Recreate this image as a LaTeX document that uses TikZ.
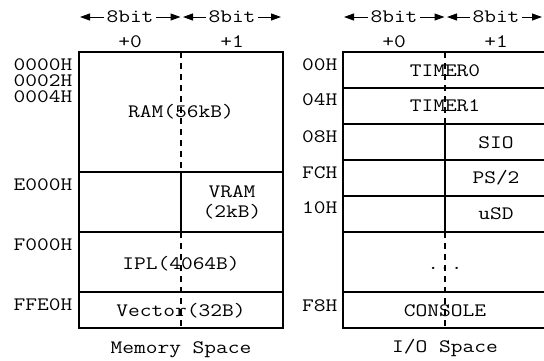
\documentclass[tikz,border=0pt]{standalone}
\usepackage{fontspec}
\setmonofont{Latin Modern Mono}[FakeStretch=1.2]
\usetikzlibrary{arrows.meta}
\begin{document}
\begin{tikzpicture}[x=1pt,y=-1pt,
 lbl/.style={font=\ttfamily\fontsize{19}{23}\selectfont, inner sep=0pt, text height=11.6pt, text depth=0pt},
 bitlbl/.style={lbl, inner xsep=2pt},
 box/.style={line width=1.2pt},
 mid/.style={line width=1.1pt, dash pattern=on 6pt off 5pt},
 solidmid/.style={line width=1.1pt},
 bitarrow/.style={line width=1pt, -{Triangle[length=10pt,width=7pt]}},
 ]
\useasboundingbox (0,0) rectangle (544,360);

% ---------- Memory space ----------
\coordinate (mTL) at (79,52); \coordinate (mBR) at (283,328);
\draw[box] (mTL) rectangle (mBR);
\coordinate (mE0a) at (79,172); \coordinate (mE0b) at (283,172);
\coordinate (mF0a) at (79,232); \coordinate (mF0b) at (283,232);
\coordinate (mFEa) at (79,292); \coordinate (mFEb) at (283,292);
\draw[box] (mE0a) -- (mE0b);
\draw[box] (mF0a) -- (mF0b);
\draw[box] (mFEa) -- (mFEb);
\coordinate (mm0) at (181,52); \coordinate (mm1) at (181,172);
\coordinate (mm2) at (181,232); \coordinate (mm3) at (181,328);
\draw[mid] (mm0) -- (mm1);
\draw[solidmid] (mm1) -- (mm2);
\draw[mid] (mm2) -- (mm3);

% header arrows (memory)
\node[bitlbl] (mb0) at (130,17) {8bit};
\node[bitlbl] (mb1) at (232,17) {8bit};
\coordinate (maL) at (80,17); \coordinate (maM0) at (180.5,17);
\coordinate (maM1) at (183,17); \coordinate (maR) at (281,17);
\draw[bitarrow] (mb0.west) -- (maL);
\draw[bitarrow] (mb0.east) -- (maM0);
\draw[bitarrow] (mb1.west) -- (maM1);
\draw[bitarrow] (mb1.east) -- (maR);
\node[lbl] (mp0) at (130,42) {+0};
\node[lbl] (mp1) at (232,42) {+1};

% address labels (memory)
\begin{scope}
\clip (0,40) rectangle (78,69.5);
\node[lbl,anchor=east] (a0000) at (72.5,65) {0000H};
\end{scope}
\begin{scope}
\clip (0,72) rectangle (78,85.5);
\node[lbl,anchor=east] (a0002) at (72.5,81) {0002H};
\end{scope}
\node[lbl,anchor=east] (a0004) at (72.5,97) {0004H};
\node[lbl,anchor=east] (aE000) at (72.5,185) {E000H};
\node[lbl,anchor=east] (aF000) at (72.5,245) {F000H};
\node[lbl,anchor=east] (aFFE0) at (72.5,305) {FFE0H};

% contents (memory)
\node[lbl] (ram) at (181,112) {RAM(56kB)};
\node[lbl] (vram1) at (232,192) {VRAM};
\node[lbl] (vram2) at (232,212) {(2kB)};
\node[lbl] (ipl) at (181,264) {IPL(4064B)};
\node[lbl] (vec) at (181,311) {Vector(32B)};
\node[lbl] (mcap) at (181,347.5) {Memory Space};

% ---------- I/O space ----------
\coordinate (iTL) at (343,52); \coordinate (iBR) at (547,328);
\draw[box] (iTL) rectangle (iBR);
\foreach \yy/\nm in {88/r1,124/r2,160/r3,196/r4,232/r5,292/r6}{
  \coordinate (i\nm a) at (343,\yy); \coordinate (i\nm b) at (547,\yy);
  \draw[box] (i\nm a) -- (i\nm b);
}
\coordinate (im0) at (445,52); \coordinate (im1) at (445,124);
\coordinate (im2) at (445,232); \coordinate (im3) at (445,328);
\draw[mid] (im0) -- (im1);
\draw[solidmid] (im1) -- (im2);
\draw[mid] (im2) -- (im3);

% header arrows (I/O)
\node[bitlbl] (ib0) at (394,17) {8bit};
\node[bitlbl] (ib1) at (496,17) {8bit};
\coordinate (iaL) at (344,17); \coordinate (iaM0) at (444.5,17);
\coordinate (iaM1) at (447,17); \coordinate (iaR) at (542,17);
\draw[bitarrow] (ib0.west) -- (iaL);
\draw[bitarrow] (ib0.east) -- (iaM0);
\draw[bitarrow] (ib1.west) -- (iaM1);
\draw[bitarrow] (ib1.east) -- (iaR);
\node[lbl] (ip0) at (394,42) {+0};
\node[lbl] (ip1) at (496,42) {+1};

% address labels (I/O)
\node[lbl,anchor=east] (a00) at (337.5,65) {00H};
\node[lbl,anchor=east] (a04) at (337.5,100) {04H};
\node[lbl,anchor=east] (a08) at (337.5,137) {08H};
\node[lbl,anchor=east] (aFC) at (337.5,173) {FCH};
\node[lbl,anchor=east] (a10) at (337.5,208) {10H};
\node[lbl,anchor=east] (aF8) at (337.5,306) {F8H};

% contents (I/O)
\node[lbl] (t0) at (445,71) {TIMER0};
\node[lbl] (t1) at (445,106) {TIMER1};
\node[lbl] (sio) at (496,143) {SIO};
\node[lbl] (ps2) at (496,178) {PS/2};
\node[lbl] (usd) at (496,214) {uSD};
\node[lbl,anchor=base] (dots) at (445,269.5) {...};
\node[lbl] (con) at (445,311) {CONSOLE};
\node[lbl] (icap) at (445,347) {I/O Space};
\end{tikzpicture}
\end{document}
